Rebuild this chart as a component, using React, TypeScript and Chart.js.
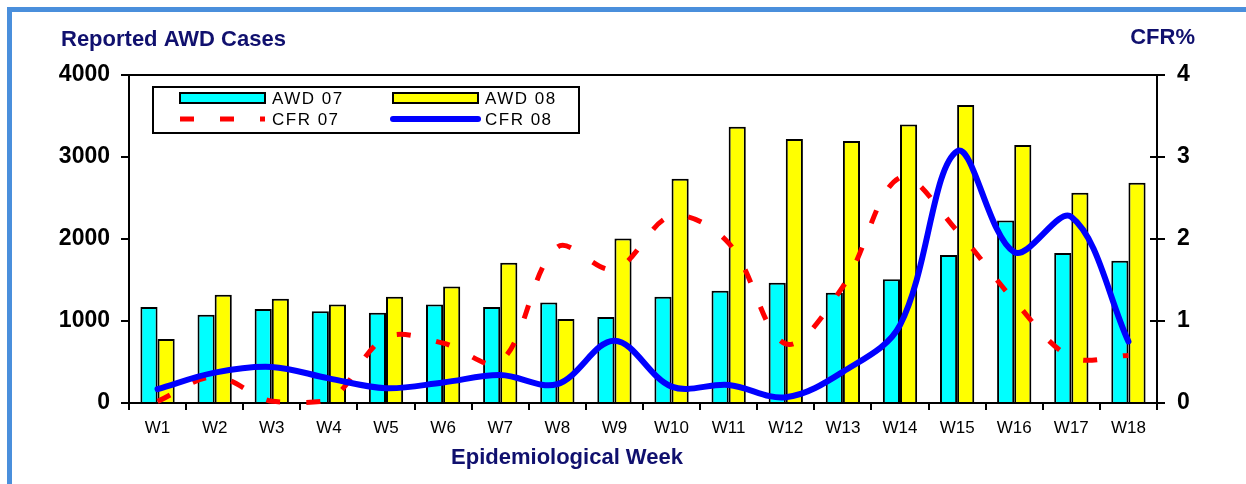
import React, { useEffect, useRef } from "react";
import { Chart, registerables } from "chart.js";

Chart.register(...registerables);

const weeks = ["W1", "W2", "W3", "W4", "W5", "W6", "W7", "W8", "W9", "W10", "W11", "W12", "W13", "W14", "W15", "W16", "W17", "W18"];
const awd07 = [1170, 1075, 1145, 1120, 1100, 1200, 1170, 1225, 1050, 1295, 1370, 1465, 1345, 1510, 1805, 2225, 1830, 1735];
const awd08 = [780, 1320, 1270, 1200, 1295, 1420, 1710, 1025, 2005, 2735, 3370, 3220, 3195, 3395, 3635, 3145, 2565, 2685];
const cfr07 = [0.02, 0.32, 0.02, 0.03, 0.8, 0.73, 0.5, 1.9, 1.63, 2.28, 1.95, 0.72, 1.42, 2.75, 2.1, 1.25, 0.56, 0.58];
const cfr08 = [0.17, 0.37, 0.44, 0.3, 0.18, 0.25, 0.34, 0.23, 0.76, 0.2, 0.22, 0.07, 0.38, 0.95, 3.07, 1.84, 2.27, 0.75];

const seriesLabels = ["AWD 07", "AWD 08", "CFR 07", "CFR 08"];
const leftTitle = "Reported AWD Cases";
const rightTitle = "CFR%";
const xTitle = "Epidemiological Week";

const FONT = "'Liberation Sans', Arial, Helvetica, sans-serif";
const NAVY = "#10106e";
const FRAME = "#4a8fdc";

const decor = {
  id: "decor",
  beforeDraw(chart: any) {
    const ctx = chart.ctx;
    ctx.save();
    ctx.fillStyle = "#ffffff";
    ctx.fillRect(0, 0, chart.width, chart.height);
    ctx.fillStyle = FRAME;
    ctx.fillRect(7, 7, chart.width - 7, 5);
    ctx.fillRect(7, 7, 5, chart.height - 7);
    ctx.restore();
  },
  afterDraw(chart: any) {
    const ctx = chart.ctx;
    const a = chart.chartArea;
    ctx.save();
    ctx.strokeStyle = "#000";
    ctx.lineWidth = 2;
    ctx.beginPath();
    ctx.moveTo(a.left, a.top);
    ctx.lineTo(a.right, a.top);
    ctx.stroke();
    const y1 = chart.scales.y1;
    y1.ticks.forEach((_t: any, i: number) => {
      const py = y1.getPixelForTick(i);
      ctx.beginPath();
      ctx.moveTo(a.right - 7, py);
      ctx.lineTo(a.right, py);
      ctx.stroke();
    });

    // titles
    ctx.fillStyle = NAVY;
    ctx.font = `bold 22px ${FONT}`;
    ctx.textBaseline = "alphabetic";
    ctx.textAlign = "left";
    ctx.fillText(leftTitle, 61, 46);
    ctx.textAlign = "right";
    ctx.fillText(rightTitle, 1195, 44);
    ctx.textAlign = "center";
    ctx.fillText(xTitle, 567, 464);

    // legend
    const bx = 153, by = 87, bw = 426, bh = 46;
    ctx.fillStyle = "#fff";
    ctx.fillRect(bx, by, bw, bh);
    ctx.strokeStyle = "#000";
    ctx.lineWidth = 2;
    ctx.strokeRect(bx, by, bw, bh);
    const cols = [180, 393];
    const rows = [98, 119];
    const sw = 85;
    chart.data.datasets.forEach((ds: any, i: number) => {
      const x = cols[i % 2];
      const y = rows[Math.floor(i / 2)];
      ctx.save();
      if (ds.type === "bar") {
        ctx.fillStyle = ds.backgroundColor;
        ctx.fillRect(x, y - 5, sw, 10);
        ctx.strokeStyle = "#000";
        ctx.lineWidth = 2;
        ctx.strokeRect(x, y - 5, sw, 10);
      } else {
        ctx.strokeStyle = ds.borderColor;
        ctx.lineWidth = ds.borderWidth;
        ctx.lineCap = ds.borderCapStyle || "butt";
        ctx.setLineDash(ds.borderDash || []);
        ctx.beginPath();
        ctx.moveTo(x, y);
        ctx.lineTo(x + sw, y);
        ctx.stroke();
      }
      ctx.restore();
      ctx.save();
      ctx.fillStyle = "#000";
      ctx.font = `17px ${FONT}`;
      (ctx as any).letterSpacing = "1.5px";
      ctx.textAlign = "left";
      ctx.textBaseline = "middle";
      ctx.fillText(ds.label, x + 92, y + 1);
      ctx.restore();
    });
    ctx.restore();
  },
};

export default function App() {
  const ref = useRef<HTMLCanvasElement | null>(null);
  useEffect(() => {
    document.body.style.margin = "0";
    if (!ref.current) return;
    Chart.defaults.font.family = FONT;
    const chart = new Chart(ref.current, {
      type: "bar",
      data: {
        labels: weeks,
        datasets: [
          {
            type: "bar",
            label: seriesLabels[0],
            data: awd07,
            backgroundColor: "#00ffff",
            borderColor: "#000",
            borderWidth: 2,
            yAxisID: "y",
            order: 3,
            categoryPercentage: 0.6,
            barPercentage: 1.0,
          },
          {
            type: "bar",
            label: seriesLabels[1],
            data: awd08,
            backgroundColor: "#ffff00",
            borderColor: "#000",
            borderWidth: 2,
            yAxisID: "y",
            order: 3,
            categoryPercentage: 0.6,
            barPercentage: 1.0,
          },
          {
            type: "line",
            label: seriesLabels[2],
            data: cfr07,
            borderColor: "#ff0000",
            backgroundColor: "#ff0000",
            borderWidth: 5,
            borderDash: [14, 26],
            borderCapStyle: "butt",
            pointRadius: 0,
            tension: 0.35,
            fill: false,
            yAxisID: "y1",
            order: 2,
            clip: false,
          },
          {
            type: "line",
            label: seriesLabels[3],
            data: cfr08,
            borderColor: "#0000ff",
            backgroundColor: "#0000ff",
            borderWidth: 6,
            borderCapStyle: "round",
            borderJoinStyle: "round",
            pointRadius: 0,
            tension: 0.35,
            fill: false,
            yAxisID: "y1",
            order: 1,
            clip: false,
          },
        ],
      } as any,
      options: {
        responsive: false,
        animation: false,
        devicePixelRatio: 1,
        layout: { padding: { top: 75, left: 0, right: 0, bottom: 0 } },
        plugins: { legend: { display: false }, tooltip: { enabled: false }, title: { display: false } },
        scales: {
          x: {
            type: "category",
            offset: true,
            grid: { display: true, drawOnChartArea: false, offset: true, tickLength: 7, color: "#000", lineWidth: 2 },
            border: { display: true, color: "#000", width: 2 },
            ticks: { color: "#000", font: { size: 17 }, padding: 8, maxRotation: 0, autoSkip: false },
            afterFit: (s: any) => { s.height = 81; },
          },
          y: {
            type: "linear",
            position: "left",
            min: 0,
            max: 4000,
            ticks: { stepSize: 1000, color: "#000", font: { size: 23, weight: "bold" }, padding: 11, callback: (v: any) => String(v) },
            grid: { display: true, drawOnChartArea: false, tickLength: 8, color: "#000", lineWidth: 2 },
            border: { display: true, color: "#000", width: 2 },
            afterFit: (s: any) => { s.width = 129; },
          },
          y1: {
            type: "linear",
            position: "right",
            min: 0,
            max: 4,
            ticks: { stepSize: 1, color: "#000", font: { size: 23, weight: "bold" }, padding: 12, callback: (v: any) => String(v) },
            grid: { display: true, drawOnChartArea: false, tickLength: 8, color: "#000", lineWidth: 2 },
            border: { display: true, color: "#000", width: 2 },
            afterFit: (s: any) => { s.width = 89; },
          },
        },
      } as any,
      plugins: [decor],
    });
    return () => chart.destroy();
  }, []);
  return (
    <div style={{ width: 1246, height: 484, position: "relative" }}>
      <canvas ref={ref} width={1246} height={484} style={{ display: "block" }} />
    </div>
  );
}
